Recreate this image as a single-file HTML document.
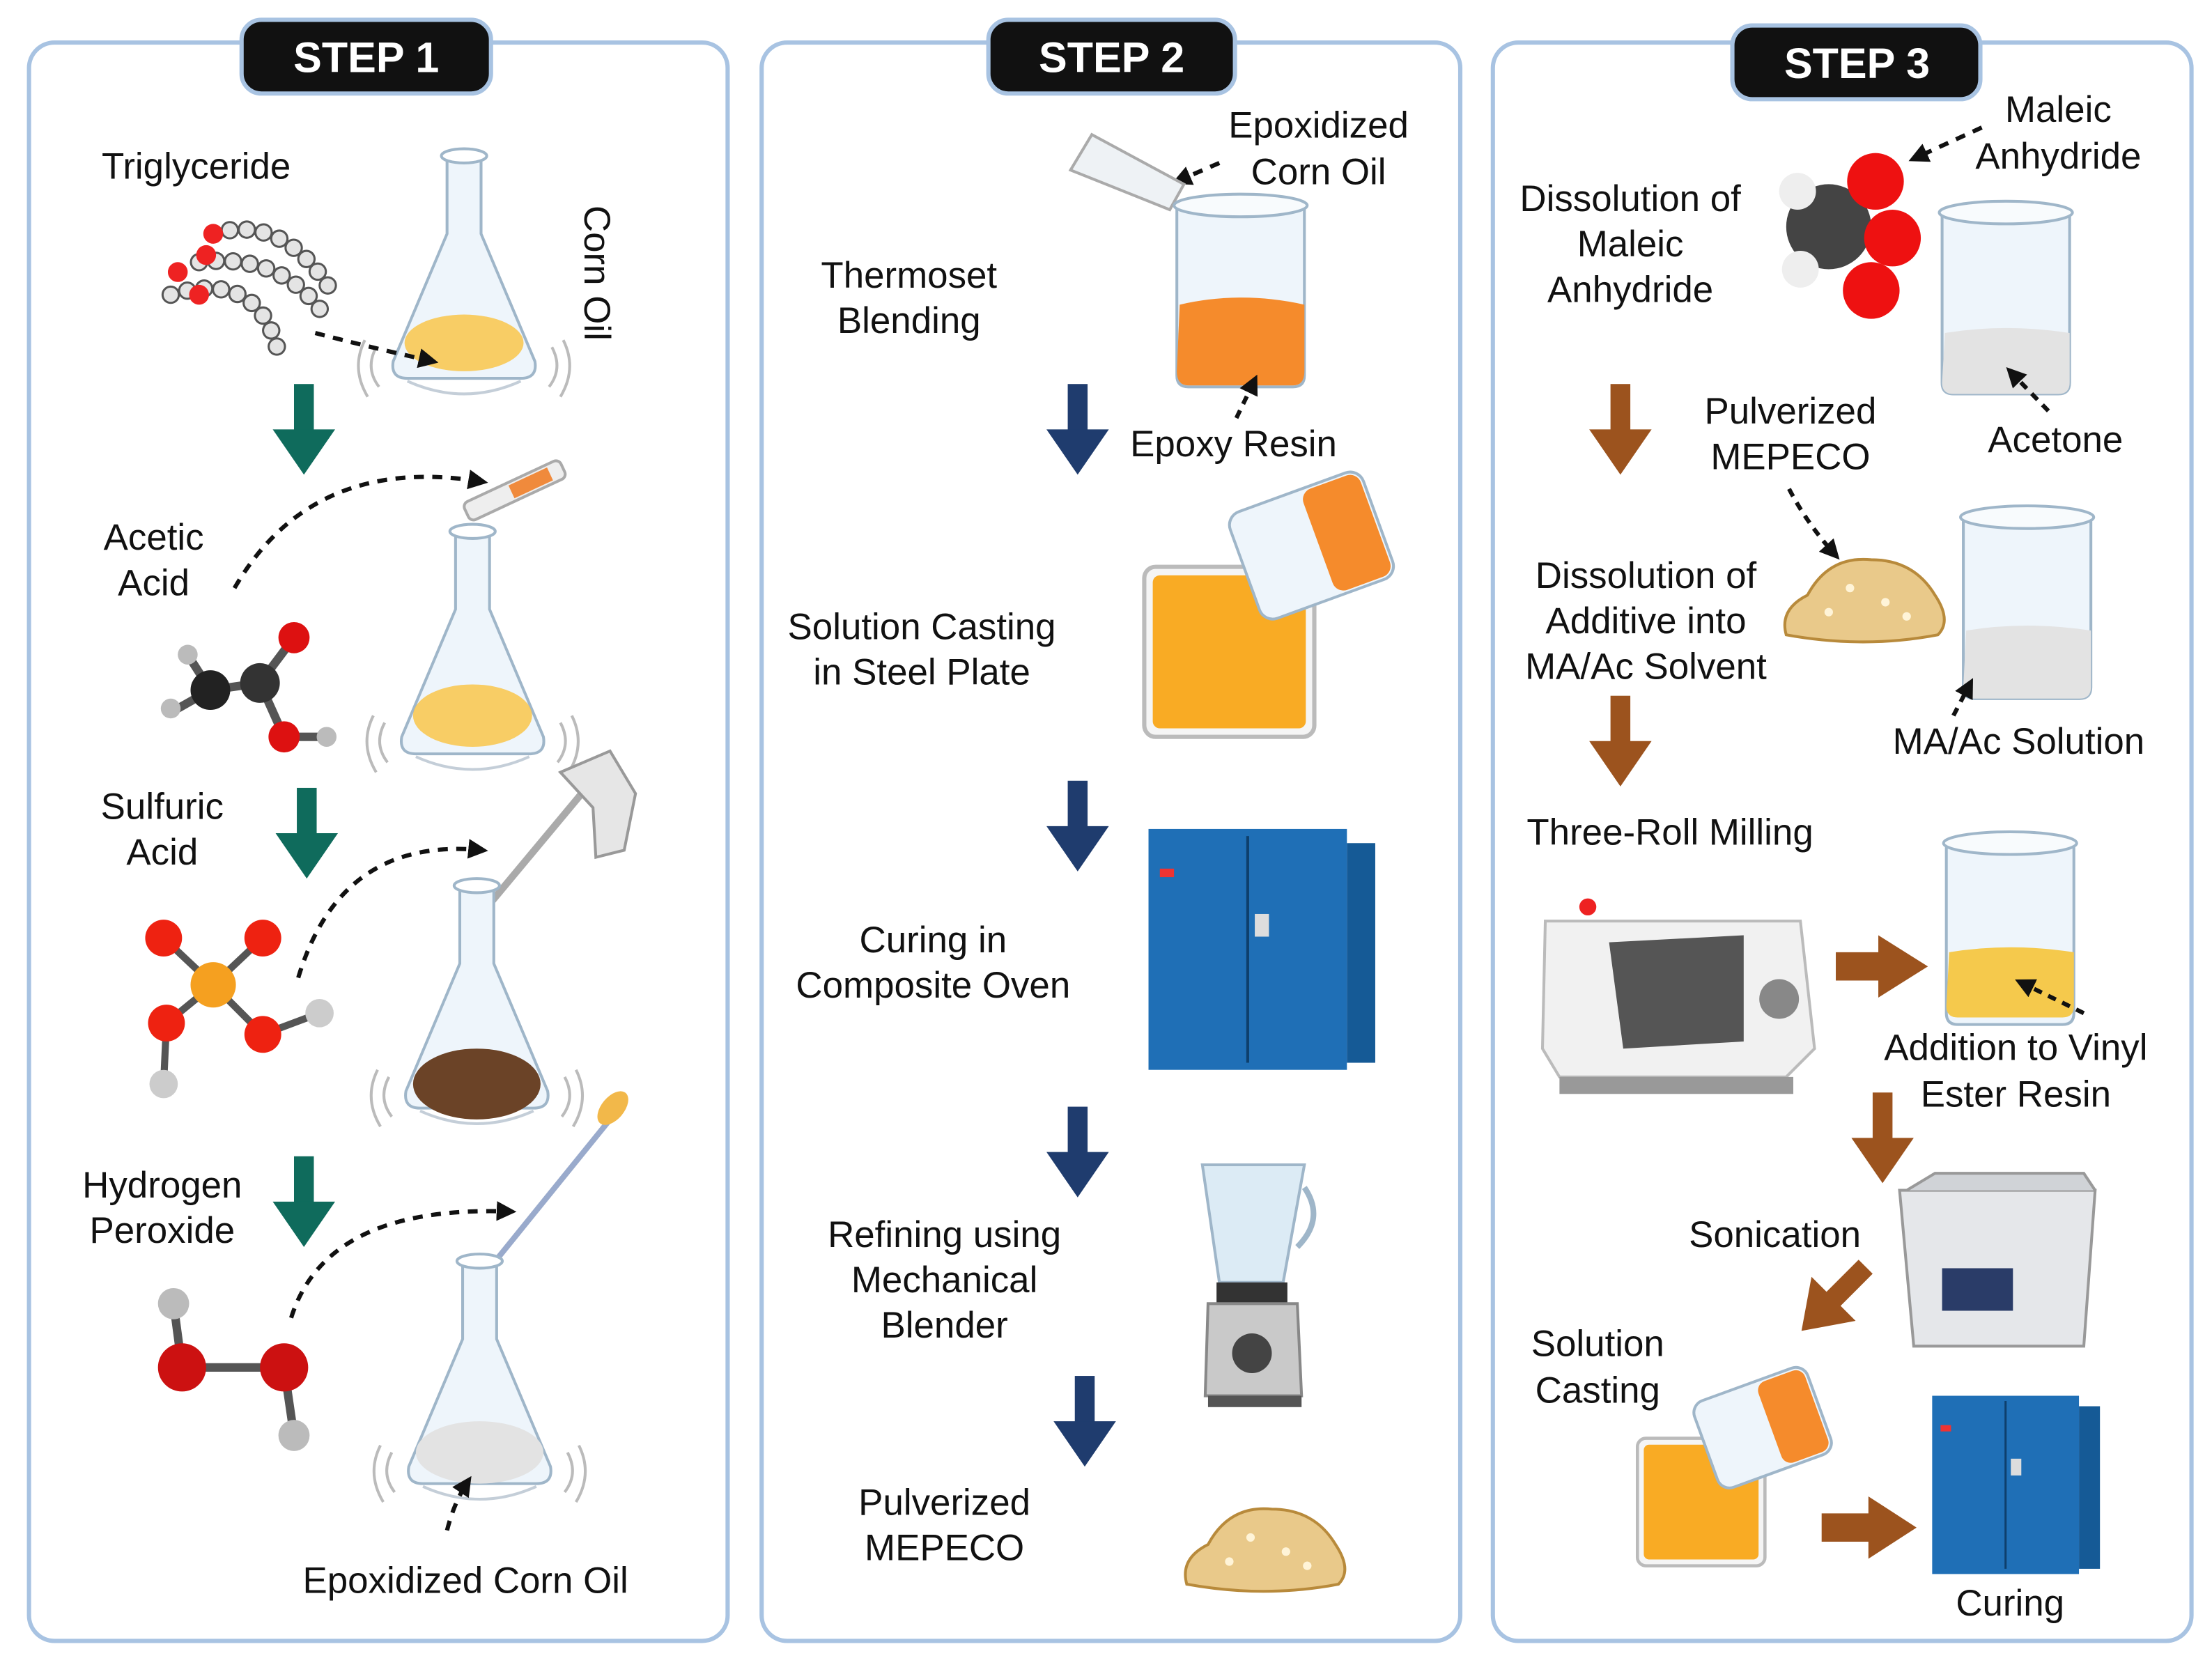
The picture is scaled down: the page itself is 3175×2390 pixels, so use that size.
<!DOCTYPE html>
<html><head><meta charset="utf-8">
<style>
html,body{margin:0;padding:0;background:#fff;}
svg{display:block;}
text{font-family:"Liberation Sans",sans-serif;fill:#111;}
</style></head>
<body>
<svg width="3175" height="2390" viewBox="0 0 1560 1175" xmlns="http://www.w3.org/2000/svg">
<defs>
<marker id="ah" markerUnits="userSpaceOnUse" markerWidth="14" markerHeight="14" refX="10" refY="7" orient="auto"><path d="M0,0 L14,7 L0,14 z" fill="#111"/></marker>
<g id="flask">
  <path d="M-12,-85 L-12,-30 L-50,60 Q-52,72 -40,72 L40,72 Q52,72 50,60 L12,-30 L12,-85 Z" fill="#eef5fb" stroke="#9fb6c9" stroke-width="2"/>
  <ellipse cx="0" cy="-85" rx="16" ry="5" fill="#fff" stroke="#9fb6c9" stroke-width="2"/>
  <path d="M-40,74 Q0,92 40,74" fill="none" stroke="#c4ced8" stroke-width="2"/>
  <path d="M-62,50 Q-70,65 -60,78 M-70,45 Q-80,65 -68,85 M62,50 Q70,65 60,78 M70,45 Q80,65 68,85" fill="none" stroke="#bbb" stroke-width="2"/>
</g>
<g id="beaker">
  <path d="M-45,-60 L-45,60 Q-45,68 -37,68 L37,68 Q45,68 45,60 L45,-60" fill="#eef5fb" stroke="#9fb6c9" stroke-width="2"/>
  <ellipse cx="0" cy="-60" rx="47" ry="8" fill="#f8fbfd" stroke="#9fb6c9" stroke-width="2"/>
</g>
<g id="darr"><rect x="-7" y="-34" width="14" height="34" /><path d="M-22,-2 L22,-2 L0,30 Z"/></g>
<g id="oven">
  <rect x="0" y="0" width="140" height="170" fill="#1f6fb6"/>
  <rect x="140" y="10" width="20" height="155" fill="#155a96"/>
  <line x1="70" y1="5" x2="70" y2="165" stroke="#0e3f6c" stroke-width="2"/>
  <rect x="75" y="60" width="10" height="16" fill="#ddd"/>
  <rect x="8" y="28" width="10" height="6" fill="#e33"/>
</g>
<g id="pile">
  <path d="M-55,28 Q-60,10 -40,0 Q-25,-28 5,-25 Q35,-25 50,0 Q62,18 52,28 Q0,38 -55,28Z" fill="#e9c98a" stroke="#b88a3b" stroke-width="2"/>
  <circle cx="-10" cy="-5" r="3" fill="#fff4d8"/><circle cx="15" cy="5" r="3" fill="#fff4d8"/><circle cx="-25" cy="12" r="3" fill="#fff4d8"/><circle cx="30" cy="15" r="3" fill="#fff4d8"/>
</g>
<g id="plate"><rect x="0" y="0" width="120" height="120" rx="8" fill="#f5f5f5" stroke="#bbb" stroke-width="3"/><rect x="6" y="6" width="108" height="108" rx="5" fill="#f9ab24"/></g>
</defs>

<!-- panels -->
<rect x="20" y="30" width="493" height="1128" rx="18" fill="none" stroke="#a8c3e2" stroke-width="3"/>
<rect x="537" y="30" width="493" height="1128" rx="18" fill="none" stroke="#a8c3e2" stroke-width="3"/>
<rect x="1053" y="30" width="493" height="1128" rx="18" fill="none" stroke="#a8c3e2" stroke-width="3"/>
<rect x="170" y="14" width="176" height="52" rx="14" fill="#111" stroke="#a8c3e2" stroke-width="3"/>
<text x="258" y="51" text-anchor="middle" font-size="30" font-weight="bold" style="fill:#fff">STEP 1</text>
<rect x="697" y="14" width="174" height="52" rx="14" fill="#111" stroke="#a8c3e2" stroke-width="3"/>
<text x="784" y="51" text-anchor="middle" font-size="30" font-weight="bold" style="fill:#fff">STEP 2</text>
<rect x="1222" y="18" width="175" height="52" rx="14" fill="#111" stroke="#a8c3e2" stroke-width="3"/>
<text x="1310" y="55" text-anchor="middle" font-size="30" font-weight="bold" style="fill:#fff">STEP 3</text>

<!-- STEP 1 -->
<text x="138" y="126" text-anchor="middle" font-size="26">Triglyceride</text>
<g fill="none" stroke-linecap="round" stroke-dasharray="0 12">
<path d="M150,165 Q200,150 235,208 M120,208 Q180,190 195,245 M140,185 Q200,178 230,225" stroke="#555" stroke-width="13"/>
<path d="M150,165 Q200,150 235,208 M120,208 Q180,190 195,245 M140,185 Q200,178 230,225" stroke="#e4e4e4" stroke-width="10"/>
</g>
<circle cx="125" cy="192" r="7" fill="#e22"/><circle cx="145" cy="180" r="7" fill="#e22"/><circle cx="140" cy="208" r="7" fill="#e22"/><circle cx="150" cy="165" r="7" fill="#e22"/>
<use href="#flask" x="327" y="195"/>
<ellipse cx="327" cy="242" rx="42" ry="20" fill="#f9c64a" opacity="0.85"/>
<text x="412" y="145" font-size="26" transform="rotate(90 412 145)">Corn Oil</text>
<path d="M222,235 Q260,245 305,255" stroke="#111" stroke-width="3" stroke-dasharray="7,6" fill="none" marker-end="url(#ah)"/>
<use href="#darr" x="214" y="305" fill="#0f6b5c"/>

<text x="108" y="388" text-anchor="middle" font-size="26">Acetic</text>
<text x="108" y="420" text-anchor="middle" font-size="26">Acid</text>
<path d="M165,415 Q220,320 340,340" stroke="#111" stroke-width="3" stroke-dasharray="7,6" fill="none" marker-end="url(#ah)"/>
<g transform="rotate(-25 365 345)"><rect x="325" y="338" width="75" height="14" rx="4" fill="#eee" stroke="#aaa" stroke-width="2"/><rect x="360" y="340" width="30" height="10" fill="#f08a3c"/></g>
<use href="#flask" x="333" y="460"/>
<ellipse cx="333" cy="505" rx="42" ry="22" fill="#f9c64a" opacity="0.85"/>
<g stroke="#555" stroke-width="6"><line x1="125" y1="500" x2="148" y2="487"/><line x1="148" y1="487" x2="183" y2="482"/><line x1="132" y1="462" x2="148" y2="487"/><line x1="183" y1="482" x2="207" y2="450"/><line x1="183" y1="482" x2="200" y2="520"/><line x1="200" y1="520" x2="230" y2="520"/></g>
<circle cx="148" cy="487" r="14" fill="#222"/><circle cx="183" cy="482" r="14" fill="#333"/>
<circle cx="207" cy="450" r="11" fill="#d11"/><circle cx="200" cy="520" r="11" fill="#d11"/>
<circle cx="132" cy="462" r="7" fill="#bbb"/><circle cx="120" cy="500" r="7" fill="#bbb"/><circle cx="230" cy="520" r="7" fill="#bbb"/>
<use href="#darr" x="216" y="590" fill="#0f6b5c"/>

<text x="114" y="578" text-anchor="middle" font-size="26">Sulfuric</text>
<text x="114" y="610" text-anchor="middle" font-size="26">Acid</text>
<path d="M210,690 Q240,590 340,600" stroke="#111" stroke-width="3" stroke-dasharray="7,6" fill="none" marker-end="url(#ah)"/>
<line x1="335" y1="650" x2="410" y2="560" stroke="#aaa" stroke-width="5"/>
<path d="M395,545 L430,530 L448,560 L440,600 L420,605 L418,570 Z" fill="#e6e6e6" stroke="#999" stroke-width="2"/>
<use href="#flask" x="336" y="710"/>
<ellipse cx="336" cy="765" rx="45" ry="25" fill="#6b4327"/>
<g stroke="#555" stroke-width="5"><line x1="115" y1="662" x2="150" y2="695"/><line x1="185" y1="662" x2="150" y2="695"/><line x1="117" y1="722" x2="150" y2="695"/><line x1="185" y1="730" x2="150" y2="695"/><line x1="185" y1="730" x2="225" y2="715"/><line x1="117" y1="722" x2="115" y2="765"/></g>
<circle cx="150" cy="695" r="16" fill="#f5a020"/>
<circle cx="115" cy="662" r="13" fill="#e21"/><circle cx="185" cy="662" r="13" fill="#e21"/><circle cx="117" cy="722" r="13" fill="#e21"/><circle cx="185" cy="730" r="13" fill="#e21"/>
<circle cx="225" cy="715" r="10" fill="#ccc"/><circle cx="115" cy="765" r="10" fill="#ccc"/>
<use href="#darr" x="214" y="850" fill="#0f6b5c"/>

<text x="114" y="845" text-anchor="middle" font-size="26">Hydrogen</text>
<text x="114" y="877" text-anchor="middle" font-size="26">Peroxide</text>
<path d="M205,930 Q230,850 360,855" stroke="#111" stroke-width="3" stroke-dasharray="7,6" fill="none" marker-end="url(#ah)"/>
<line x1="345" y1="895" x2="430" y2="790" stroke="#9ac" stroke-width="4"/>
<ellipse cx="432" cy="782" rx="8" ry="14" fill="#f2b84a" transform="rotate(40 432 782)"/>
<use href="#flask" x="338" y="975"/>
<ellipse cx="338" cy="1025" rx="45" ry="22" fill="#e3e3e3"/>
<path d="M315,1080 Q320,1060 330,1045" stroke="#111" stroke-width="3" stroke-dasharray="7,6" fill="none" marker-end="url(#ah)"/>
<line x1="122" y1="920" x2="128" y2="965" stroke="#555" stroke-width="6"/><line x1="128" y1="965" x2="200" y2="965" stroke="#555" stroke-width="6"/><line x1="200" y1="965" x2="207" y2="1013" stroke="#555" stroke-width="6"/>
<circle cx="128" cy="965" r="17" fill="#c11"/><circle cx="200" cy="965" r="17" fill="#c11"/>
<circle cx="122" cy="920" r="11" fill="#bbb"/><circle cx="207" cy="1013" r="11" fill="#bbb"/>
<text x="328" y="1124" text-anchor="middle" font-size="26">Epoxidized Corn Oil</text>

<!-- STEP 2 -->
<text x="930" y="97" text-anchor="middle" font-size="26">Epoxidized</text>
<text x="930" y="130" text-anchor="middle" font-size="26">Corn Oil</text>
<path d="M860,115 L830,128" stroke="#111" stroke-width="3" stroke-dasharray="7,6" marker-end="url(#ah)"/>
<path d="M755,120 L770,95 L835,130 L825,148 Z" fill="#eef2f5" stroke="#aaa" stroke-width="2"/>
<use href="#beaker" x="875" y="205"/>
<path d="M832,215 Q875,205 920,215 L920,262 Q920,272 912,272 L838,272 Q830,272 830,262 Z" fill="#f58b2c"/>
<text x="641" y="203" text-anchor="middle" font-size="26">Thermoset</text>
<text x="641" y="235" text-anchor="middle" font-size="26">Blending</text>
<use href="#darr" x="760" y="305" fill="#1f3c6e"/>
<text x="870" y="322" text-anchor="middle" font-size="26">Epoxy Resin</text>
<path d="M872,295 L885,268" stroke="#111" stroke-width="3" stroke-dasharray="6,5" marker-end="url(#ah)"/>

<text x="650" y="451" text-anchor="middle" font-size="26">Solution Casting</text>
<text x="650" y="483" text-anchor="middle" font-size="26">in Steel Plate</text>
<use href="#plate" x="807" y="400"/>
<g transform="rotate(-20 925 385)"><rect x="875" y="345" width="100" height="80" rx="10" fill="#eef5fb" stroke="#9fb6c9" stroke-width="2"/><rect x="930" y="347" width="43" height="76" rx="8" fill="#f58b2c"/></g>
<use href="#darr" x="760" y="585" fill="#1f3c6e"/>

<text x="658" y="672" text-anchor="middle" font-size="26">Curing in</text>
<text x="658" y="704" text-anchor="middle" font-size="26">Composite Oven</text>
<use href="#oven" x="810" y="585"/>
<use href="#darr" x="760" y="815" fill="#1f3c6e"/>

<text x="666" y="880" text-anchor="middle" font-size="26">Refining using</text>
<text x="666" y="912" text-anchor="middle" font-size="26">Mechanical</text>
<text x="666" y="944" text-anchor="middle" font-size="26">Blender</text>
<path d="M848,822 L920,822 L905,905 L860,905 Z" fill="#dcebf5" stroke="#9fb6c9" stroke-width="2"/>
<path d="M920,838 Q935,860 915,880" stroke="#9fb6c9" stroke-width="4" fill="none"/>
<rect x="858" y="905" width="50" height="15" fill="#333"/>
<path d="M852,920 L915,920 L918,985 L850,985 Z" fill="#c9c9c9" stroke="#888" stroke-width="2"/>
<circle cx="883" cy="955" r="14" fill="#444"/>
<rect x="852" y="985" width="66" height="8" fill="#555"/>
<use href="#darr" x="765" y="1005" fill="#1f3c6e"/>

<text x="666" y="1069" text-anchor="middle" font-size="26">Pulverized</text>
<text x="666" y="1101" text-anchor="middle" font-size="26">MEPECO</text>
<use href="#pile" x="892" y="1090"/>

<!-- STEP 3 -->
<text x="1452" y="86" text-anchor="middle" font-size="26">Maleic</text>
<text x="1452" y="119" text-anchor="middle" font-size="26">Anhydride</text>
<path d="M1398,90 L1350,112" stroke="#111" stroke-width="3" stroke-dasharray="7,6" marker-end="url(#ah)"/>
<circle cx="1290" cy="160" r="30" fill="#444"/>
<circle cx="1268" cy="135" r="13" fill="#eee"/><circle cx="1270" cy="190" r="13" fill="#eee"/>
<circle cx="1323" cy="128" r="20" fill="#e11"/><circle cx="1335" cy="168" r="20" fill="#e11"/><circle cx="1320" cy="205" r="20" fill="#e11"/>
<text x="1150" y="149" text-anchor="middle" font-size="26">Dissolution of</text>
<text x="1150" y="181" text-anchor="middle" font-size="26">Maleic</text>
<text x="1150" y="213" text-anchor="middle" font-size="26">Anhydride</text>
<use href="#beaker" x="1415" y="210"/>
<path d="M1372,235 Q1415,228 1460,235 L1460,270 Q1460,278 1452,278 L1378,278 Q1370,278 1370,270 Z" fill="#e3e3e3"/>
<path d="M1445,290 L1418,262" stroke="#111" stroke-width="3" stroke-dasharray="6,5" marker-end="url(#ah)"/>
<text x="1450" y="319" text-anchor="middle" font-size="26">Acetone</text>
<use href="#darr" x="1143" y="305" fill="#9c531e"/>

<text x="1263" y="299" text-anchor="middle" font-size="26">Pulverized</text>
<text x="1263" y="331" text-anchor="middle" font-size="26">MEPECO</text>
<path d="M1262,345 Q1275,370 1295,392" stroke="#111" stroke-width="3" stroke-dasharray="6,5" fill="none" marker-end="url(#ah)"/>
<use href="#pile" x="1315" y="420"/>
<use href="#beaker" x="1430" y="425"/>
<path d="M1387,445 Q1430,438 1475,445 L1475,485 Q1475,493 1467,493 L1393,493 Q1385,493 1385,485 Z" fill="#e3e3e3"/>
<text x="1161" y="415" text-anchor="middle" font-size="26">Dissolution of</text>
<text x="1161" y="447" text-anchor="middle" font-size="26">Additive into</text>
<text x="1161" y="479" text-anchor="middle" font-size="26">MA/Ac Solvent</text>
<path d="M1378,505 L1390,482" stroke="#111" stroke-width="3" stroke-dasharray="6,5" marker-end="url(#ah)"/>
<text x="1424" y="532" text-anchor="middle" font-size="26">MA/Ac Solution</text>
<use href="#darr" x="1143" y="525" fill="#9c531e"/>

<text x="1178" y="596" text-anchor="middle" font-size="26">Three-Roll Milling</text>
<path d="M1090,650 L1270,650 L1280,740 L1260,760 L1100,760 L1088,740 Z" fill="#f1f1f1" stroke="#bbb" stroke-width="2"/>
<path d="M1135,665 L1230,660 L1230,735 L1145,740 Z" fill="#555"/>
<circle cx="1255" cy="705" r="14" fill="#888"/>
<circle cx="1120" cy="640" r="6" fill="#e22"/>
<rect x="1100" y="760" width="165" height="12" fill="#999"/>
<path d="M1295,672 L1325,672 L1325,660 L1360,682 L1325,704 L1325,692 L1295,692 Z" fill="#9c531e"/>
<use href="#beaker" x="1418" y="655"/>
<path d="M1375,672 Q1418,665 1463,672 L1463,710 Q1463,718 1455,718 L1381,718 Q1373,718 1373,710 Z" fill="#f5c94c"/>
<path d="M1470,715 L1425,693" stroke="#111" stroke-width="3" stroke-dasharray="6,5" marker-end="url(#ah)"/>
<text x="1422" y="748" text-anchor="middle" font-size="26">Addition to Vinyl</text>
<text x="1422" y="781" text-anchor="middle" font-size="26">Ester Resin</text>
<use href="#darr" x="1328" y="805" fill="#9c531e"/>

<text x="1252" y="880" text-anchor="middle" font-size="26">Sonication</text>
<path d="M1340,840 L1478,840 L1470,950 L1350,950 Z" fill="#e5e7ea" stroke="#999" stroke-width="2"/>
<path d="M1345,840 L1365,828 L1470,828 L1478,840" fill="#d0d3d7" stroke="#999" stroke-width="2"/>
<rect x="1370" y="895" width="50" height="30" fill="#2a3c68"/>
<use href="#darr" transform="translate(1292 918) rotate(45)" fill="#9c531e"/>
<text x="1127" y="957" text-anchor="middle" font-size="26">Solution</text>
<text x="1127" y="990" text-anchor="middle" font-size="26">Casting</text>
<g transform="translate(1155 1015) scale(0.75)"><use href="#plate"/></g>
<g transform="rotate(-20 1243 1005)"><rect x="1200" y="975" width="85" height="65" rx="9" fill="#eef5fb" stroke="#9fb6c9" stroke-width="2"/><rect x="1248" y="977" width="35" height="61" rx="7" fill="#f58b2c"/></g>
<path d="M1285,1068 L1318,1068 L1318,1056 L1352,1078 L1318,1100 L1318,1088 L1285,1088 Z" fill="#9c531e"/>
<g transform="translate(1363 985) scale(0.74)"><use href="#oven"/></g>
<text x="1418" y="1140" text-anchor="middle" font-size="26">Curing</text>
</svg>
</body></html>
